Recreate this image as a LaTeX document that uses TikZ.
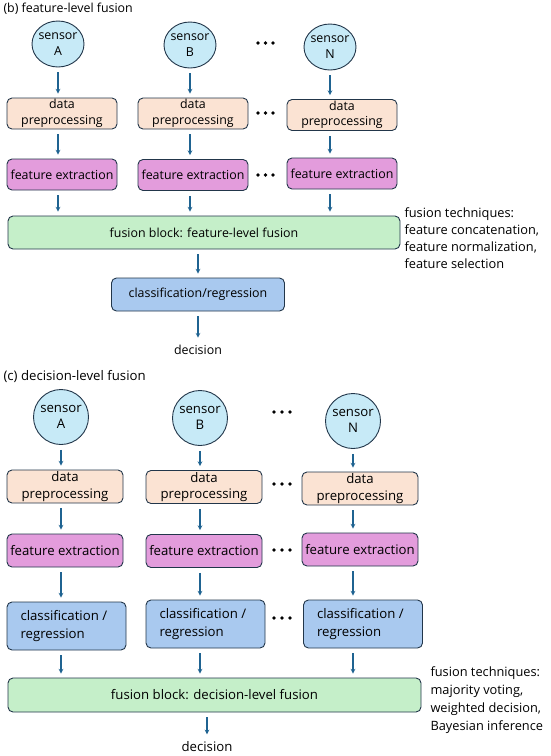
\documentclass[tikz,border=0pt]{standalone}
\usepackage{fontspec}
\setmainfont{Open Sans}
\usetikzlibrary{shapes.geometric}

\definecolor{linec}{HTML}{22364A}
\definecolor{arrowc}{HTML}{1F6391}
\definecolor{sensorc}{HTML}{C7EAF7}
\definecolor{prepc}{HTML}{FBE3D3}
\definecolor{featc}{HTML}{E39CDC}
\definecolor{clsc}{HTML}{A9C9EF}
\definecolor{fusec}{HTML}{C5EFC9}

\tikzset{
  sensornode/.style={ellipse,draw=linec,fill=sensorc,line width=0.9pt,inner xsep=-5pt,inner ysep=0pt,align=center},
  blocknode/.style={rounded corners=5pt,draw=linec,line width=0.9pt,inner sep=1pt,align=center},
  prepbox/.style={blocknode,fill=prepc},
  featbox/.style={blocknode,fill=featc},
  clsbox/.style={blocknode,fill=clsc},
  fusebox/.style={blocknode,fill=fusec},
  flow/.style={->,draw=arrowc,line width=1.1pt,shorten <=5pt,shorten >=4pt},
}

\begin{document}
\begin{tikzpicture}[x=1pt,y=-1pt,font=\fontsize{12.4}{15.5}\selectfont,>=stealth]
  \useasboundingbox (0,0) rectangle (550,756);

  % (b) feature-level fusion
  \node[anchor=west] (tb) at (0,9) {(b) feature-level fusion};
  \node[sensornode,minimum width=52pt,minimum height=46pt] (sa) at (58,44) {sensor\\A};
  \node[sensornode,minimum width=52pt,minimum height=46pt] (sb) at (190,45) {sensor\\B};
  \node[sensornode,minimum width=52pt,minimum height=46pt] (sn) at (330,47) {sensor\\N};
  \node[prepbox,minimum width=110pt,minimum height=31pt] (pa) at (62,113.5) {data\\preprocessing};
  \node[prepbox,minimum width=110pt,minimum height=31pt] (pb) at (193,113.5) {data\\preprocessing};
  \node[prepbox,minimum width=110pt,minimum height=31pt] (pn) at (342,115) {data\\preprocessing};
  \node[featbox,minimum width=110pt,minimum height=31pt] (fa) at (62,174.5) {feature extraction};
  \node[featbox,minimum width=110pt,minimum height=31pt] (fb) at (193,175) {feature extraction};
  \node[featbox,minimum width=110pt,minimum height=31pt] (fn) at (342,173.5) {feature extraction};
  \node[fusebox,minimum width=392pt,minimum height=33pt] (fuse) at (204,232.5) {fusion block: feature-level fusion};
  \node[anchor=north west,align=left,font=\fontsize{12.8}{17}\selectfont] (techb) at (401,204)
    {fusion techniques:\\feature concatenation,\\feature normalization,\\feature selection};
  \node[clsbox,minimum width=173pt,minimum height=33pt] (cls) at (198,294.5) {classification/regression};
  \node (dec) at (198,350) {decision};
  \foreach \y in {43,113,175}
    \foreach \x in {258,265.5,273}
      \fill (\x,\y) circle (1.8pt);

  \draw[flow] (sa.south) -- (sa.south |- pa.north);
  \draw[flow] (sb.south) -- (sb.south |- pb.north);
  \draw[flow] (sn.south) -- (sn.south |- pn.north);
  \draw[flow] (pa.south -| sa) -- (fa.north -| sa);
  \draw[flow] (pb.south -| sb) -- (fb.north -| sb);
  \draw[flow] (pn.south -| sn) -- (fn.north -| sn);
  \draw[flow] (fa.south -| sa) -- (fuse.north -| sa);
  \draw[flow] (fb.south -| sb) -- (fuse.north -| sb);
  \draw[flow] (fn.south -| sn) -- (fuse.north -| sn);
  \draw[flow] (fuse.south -| cls) -- (cls.north);
  \draw[flow] (cls.south) -- (dec.north);

  % (c) decision-level fusion
  \begin{scope}[font=\fontsize{13.2}{16.5}\selectfont]
  \node[anchor=west] (tc) at (0,376) {(c) decision-level fusion};
  \node[sensornode,minimum size=55pt] (sa2) at (61,417) {sensor\\A};
  \node[sensornode,minimum size=55pt] (sb2) at (200,418) {sensor\\B};
  \node[sensornode,minimum size=55pt] (sn2) at (353,421) {sensor\\N};
  \node[prepbox,minimum width=116pt,minimum height=33pt] (pa2) at (65,486.5) {data\\preprocessing};
  \node[prepbox,minimum width=116pt,minimum height=33pt] (pb2) at (204,487) {data\\preprocessing};
  \node[prepbox,minimum width=116pt,minimum height=33pt] (pn2) at (360,488.5) {data\\preprocessing};
  \node[featbox,minimum width=116pt,minimum height=33pt] (fa2) at (65,550.5) {feature extraction};
  \node[featbox,minimum width=116pt,minimum height=33pt] (fb2) at (204,551) {feature extraction};
  \node[featbox,minimum width=116pt,minimum height=33pt] (fn2) at (360,549.5) {feature extraction};
  \node[clsbox,minimum width=119pt,minimum height=48pt,align=left,font=\fontsize{13.2}{17.5}\selectfont] (ca2) at (66.5,626) {classification /\\regression\phantom{ion /}};
  \node[clsbox,minimum width=119pt,minimum height=48pt,align=left,font=\fontsize{13.2}{17.5}\selectfont] (cb2) at (205.5,624) {classification /\\regression\phantom{ion /}};
  \node[clsbox,minimum width=119pt,minimum height=48pt,align=left,font=\fontsize{13.2}{17.5}\selectfont] (cn2) at (363,624) {classification /\\regression\phantom{ion /}};
  \node[fusebox,minimum width=413pt,minimum height=34pt] (fuse2) at (214.5,695) {fusion block: decision-level fusion};
  \node[anchor=north west,align=left,font=\fontsize{12.8}{18}\selectfont] (techc) at (427,663)
    {fusion techniques:\\majority voting,\\weighted decision,\\Bayesian inference};
  \node (dec2) at (207,747) {decision};
  \end{scope}
  \foreach \y in {412,484,550,618}
    \foreach \x in {274,282,290}
      \fill (\x,\y) circle (1.8pt);

  \draw[flow] (sa2.south) -- (sa2.south |- pa2.north);
  \draw[flow] (sb2.south) -- (sb2.south |- pb2.north);
  \draw[flow] (sn2.south) -- (sn2.south |- pn2.north);
  \draw[flow] (pa2.south -| sa2) -- (fa2.north -| sa2);
  \draw[flow] (pb2.south -| sb2) -- (fb2.north -| sb2);
  \draw[flow] (pn2.south -| sn2) -- (fn2.north -| sn2);
  \draw[flow] (fa2.south -| sa2) -- (ca2.north -| sa2);
  \draw[flow] (fb2.south -| sb2) -- (cb2.north -| sb2);
  \draw[flow] (fn2.south -| sn2) -- (cn2.north -| sn2);
  \draw[flow] (ca2.south -| sa2) -- (fuse2.north -| sa2);
  \draw[flow] (cb2.south -| sb2) -- (fuse2.north -| sb2);
  \draw[flow] (cn2.south -| sn2) -- (fuse2.north -| sn2);
  \draw[flow] (fuse2.south -| dec2) -- (dec2.north);
\end{tikzpicture}
\end{document}
